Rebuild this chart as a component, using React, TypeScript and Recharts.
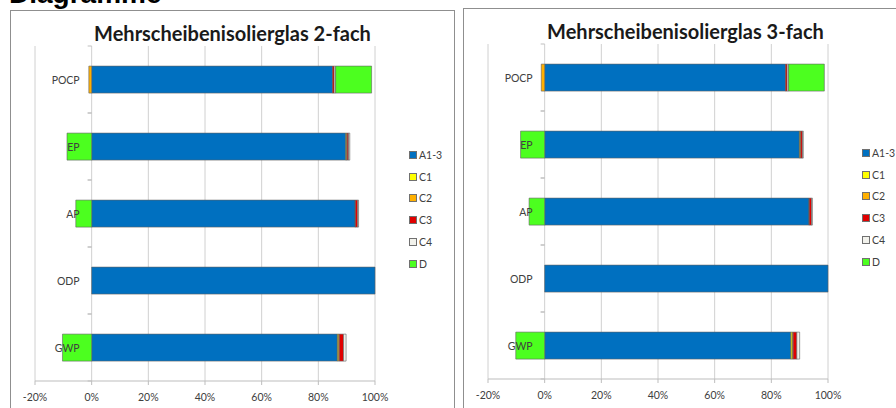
import { BarChart, Bar, XAxis, YAxis, CartesianGrid, Legend } from "recharts";

const CATEGORIES = ["POCP", "EP", "AP", "ODP", "GWP"];
const X_TICKS = [-20, 0, 20, 40, 60, 80, 100];
const SERIES = ["A1-3", "C1", "C2", "C3", "C4", "D"];

// Mehrscheibenisolierglas 2-fach (Anteile in %)
const A13_2FACH = [85, 89.7, 93, 100, 86.7];
const C1_2FACH = [0, 0.2, 0, 0, 0.3];
const C2_2FACH = [-1, 0.3, 0.1, 0, 0.4];
const C3_2FACH = [0.6, 0.5, 0.8, 0, 1.5];
const C4_2FACH = [0.5, 0.4, 0.3, 0, 0.9];
const D_2FACH = [12.7, -8.7, -5.6, 0, -10.3];

// Mehrscheibenisolierglas 3-fach (Anteile in %)
const A13_3FACH = [85, 89.9, 93.3, 100, 86.9];
const C1_3FACH = [0, 0.2, 0, 0, 0.5];
const C2_3FACH = [-1.2, 0.3, 0.1, 0, 0.3];
const C3_3FACH = [0.6, 0.6, 0.8, 0, 1.3];
const C4_3FACH = [0.5, 0.3, 0.3, 0, 1.0];
const D_3FACH = [12.6, -8.5, -5.5, 0, -10.2];

const COLORS: Record<string, string> = {
  "A1-3": "#0070C0",
  C1: "#FFFF00",
  C2: "#FFB000",
  C3: "#E00000",
  C4: "#F2F2EC",
  D: "#4CFF1F",
};

const FONT = "Lato, 'Open Sans', sans-serif";
const PANEL_W = 445;
const CHART_H = 398;
const Y_AXIS_W = 1;
const MARGIN = { top: 35, right: 79, bottom: 8, left: 23 };
const PLOT_LEFT = MARGIN.left + Y_AXIS_W;
const PLOT_W = PANEL_W - 2 - PLOT_LEFT - MARGIN.right;
const PLOT_H = CHART_H - MARGIN.top - MARGIN.bottom - 20;
const ZERO_X = PLOT_LEFT + (PLOT_W * (0 - X_TICKS[0])) / (X_TICKS[X_TICKS.length - 1] - X_TICKS[0]);
const HALF_BAND = PLOT_H / CATEGORIES.length / 2;

function buildRows(cols: number[][]) {
  return CATEGORIES.map((name, i) => {
    const row: Record<string, string | number> = { name };
    SERIES.forEach((s, j) => {
      row[s] = cols[j][i];
    });
    return row;
  });
}

const DATA_2FACH = buildRows([A13_2FACH, C1_2FACH, C2_2FACH, C3_2FACH, C4_2FACH, D_2FACH]);
const DATA_3FACH = buildRows([A13_3FACH, C1_3FACH, C2_3FACH, C3_3FACH, C4_3FACH, D_3FACH]);

// eslint-disable-next-line @typescript-eslint/no-explicit-any
function renderCategoryTick(props: any) {
  const { y, payload, index } = props;
  return (
    <g key={`cat-${index}`}>
      <line x1={ZERO_X - 4} x2={ZERO_X} y1={y - HALF_BAND} y2={y - HALF_BAND} stroke="#bfbfbf" />
      <line x1={ZERO_X - 4} x2={ZERO_X} y1={y + HALF_BAND} y2={y + HALF_BAND} stroke="#bfbfbf" />
      <text x={ZERO_X - 12} y={y} dy={4} textAnchor="end" fontSize={10.5} fontFamily={FONT} fill="#404040">
        {payload.value}
      </text>
    </g>
  );
}

function renderLegend() {
  return (
    <div style={{ fontFamily: FONT, fontSize: 10.5, color: "#404040" }}>
      {SERIES.map((s) => (
        <div key={s} style={{ display: "flex", alignItems: "center", height: 21.8 }}>
          <span
            style={{
              display: "inline-block",
              width: 6,
              height: 6,
              background: COLORS[s],
              border: "1px solid #707070",
              marginRight: 2,
            }}
          />
          {s}
        </div>
      ))}
    </div>
  );
}

interface PanelProps {
  left: number;
  top: number;
  title: string;
  data: Record<string, string | number>[];
}

function Panel({ left, top, title, data }: PanelProps) {
  return (
    <div
      style={{
        position: "absolute",
        left,
        top,
        width: PANEL_W - 2,
        height: 420,
        border: "1px solid #8f8f8f",
        background: "#fff",
      }}
    >
      <div
        style={{
          position: "absolute",
          top: 10,
          left: 0,
          width: "100%",
          textAlign: "center",
          fontFamily: FONT,
          fontWeight: "bold",
          fontSize: 20,
          lineHeight: "24px",
          color: "#1a1a1a",
        }}
      >
        {title}
      </div>
      <BarChart
        width={PANEL_W - 2}
        height={CHART_H}
        data={data}
        layout="vertical"
        stackOffset="sign"
        barCategoryGap="30%"
        margin={MARGIN}
      >
        <CartesianGrid horizontal={false} stroke="#d0d0d0" />
        <XAxis
          type="number"
          domain={[X_TICKS[0], X_TICKS[X_TICKS.length - 1]]}
          ticks={X_TICKS}
          tickFormatter={(v) => `${v}%`}
          height={20}
          tickSize={4}
          tickMargin={9}
          axisLine={{ stroke: "#bdbdbd" }}
          tickLine={{ stroke: "#bdbdbd" }}
          tick={{ fontSize: 10.5, fontFamily: FONT, fill: "#404040" }}
          interval={0}
        />
        {SERIES.map((s) => (
          <Bar
            key={s}
            dataKey={s}
            stackId="lca"
            fill={COLORS[s]}
            stroke="#5f5f5f"
            strokeWidth={0.6}
            isAnimationActive={false}
          />
        ))}
        <YAxis
          type="category"
          dataKey="name"
          width={Y_AXIS_W}
          axisLine={false}
          tickLine={false}
          interval={0}
          tick={renderCategoryTick}
        />
        <Legend
          layout="horizontal"
          align="center"
          verticalAlign="middle"
          content={renderLegend}
          wrapperStyle={{ left: 398, top: 133, width: 40, height: 140 }}
        />
      </BarChart>
    </div>
  );
}

export default function App() {
  return (
    <div
      style={{
        position: "absolute",
        left: 0,
        top: 0,
        width: 896,
        height: 408,
        overflow: "hidden",
        background: "#fff",
      }}
    >
      <div
        style={{
          position: "absolute",
          left: 9,
          top: -21,
          fontFamily: "'Liberation Sans', Arial, sans-serif",
          fontWeight: "bold",
          fontSize: 28,
          lineHeight: "30px",
          color: "#000",
        }}
      >
        Diagramme
      </div>
      <Panel left={10} top={10} title="Mehrscheibenisolierglas 2-fach" data={DATA_2FACH} />
      <Panel left={463} top={8} title="Mehrscheibenisolierglas 3-fach" data={DATA_3FACH} />
    </div>
  );
}
